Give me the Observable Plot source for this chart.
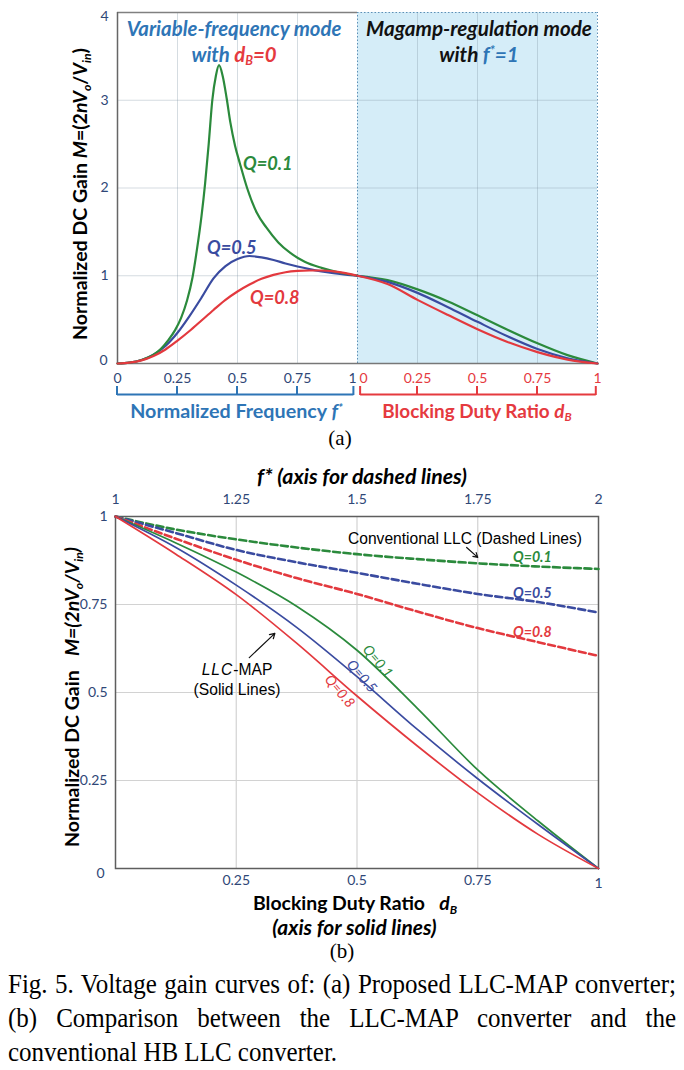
<!DOCTYPE html>
<html>
<head>
<meta charset="utf-8">
<script src="https://cdn.jsdelivr.net/npm/d3@7"></script>
<script src="https://cdn.jsdelivr.net/npm/@observablehq/plot@0.6"></script>
<style>
html,body{margin:0;padding:0;background:#fff;}
#root{position:relative;width:684px;height:1070px;overflow:hidden;background:#fff;font-family:Lato,"Open Sans",sans-serif;}
#root svg{position:absolute;left:0;}
.t{position:absolute;white-space:nowrap;line-height:1;}
.t sub{font-size:0.62em;vertical-align:-0.28em;line-height:0;}
.t sup{font-size:0.62em;vertical-align:0.5em;line-height:0;}
.cap{position:absolute;left:8px;width:668px;font-family:"Liberation Serif","Times New Roman",serif;font-size:25px;line-height:1;color:#000;transform:scaleY(1.12);transform-origin:50% 50%;}
.just{text-align:justify;text-align-last:justify;}
</style>
</head>
<body>
<div id="root"></div>
<script>
// ---------------- DATA ----------------
// Panel (a), variable-frequency mode: gain M vs normalized frequency f*
const fA_Q01 = [0,0.05,0.1,0.15,0.18,0.21,0.24,0.265,0.29,0.3125,0.33,0.35,0.365,0.38,0.395,0.41,0.423,0.438,0.455,0.47,0.49,0.51,0.54,0.58,0.62,0.67,0.72,0.78,0.85,0.92,1];
const mA_Q01 = [0,0.01,0.04,0.1,0.165,0.26,0.38,0.52,0.72,0.98,1.28,1.68,2.05,2.5,3.0,3.28,3.40,3.28,3.02,2.75,2.48,2.28,2.0,1.72,1.55,1.38,1.26,1.16,1.09,1.04,1.0];
const fA = [0,0.05,0.1,0.15,0.2,0.25,0.3,0.35,0.4,0.45,0.5,0.55,0.6,0.65,0.7,0.75,0.8,0.85,0.9,0.95,1];
const mA_Q05 = [0,0.01,0.04,0.1,0.2,0.35,0.54,0.75,0.97,1.11,1.19,1.225,1.21,1.18,1.14,1.105,1.075,1.05,1.03,1.013,1];
const mA_Q08 = [0,0.01,0.035,0.085,0.16,0.26,0.37,0.49,0.61,0.725,0.82,0.9,0.965,1.01,1.04,1.055,1.06,1.06,1.05,1.03,1];
// Panel (a), magamp-regulation mode: gain M vs blocking duty ratio dB
const dBA = [0,0.125,0.25,0.375,0.5,0.625,0.75,0.875,1];
const mAd_Q01 = [1,0.95,0.845,0.71,0.55,0.385,0.23,0.095,0];
const mAd_Q05 = [1,0.93,0.805,0.645,0.475,0.31,0.165,0.06,0];
const mAd_Q08 = [1,0.905,0.725,0.555,0.39,0.245,0.13,0.045,0];
// Panel (b), LLC-MAP solid lines vs dB
const dBB = [0,0.125,0.25,0.375,0.5,0.625,0.75,0.875,1];
const mB_Q01 = [1,0.925,0.842,0.745,0.62,0.455,0.28,0.135,0];
const mB_Q05 = [1,0.912,0.805,0.685,0.545,0.395,0.255,0.125,0];
const mB_Q08 = [1,0.893,0.778,0.64,0.49,0.348,0.215,0.097,0];
// Panel (b), conventional LLC dashed lines vs f* (1..2)
const fB = [1,1.125,1.25,1.375,1.5,1.625,1.75,1.875,2];
const mBd_Q01 = [1,0.963,0.935,0.912,0.893,0.879,0.867,0.858,0.851];
const mBd_Q05 = [1,0.953,0.905,0.87,0.84,0.809,0.78,0.757,0.727];
const mBd_Q08 = [1,0.937,0.877,0.825,0.78,0.73,0.683,0.643,0.604];
// Tick labels
const ticksA_f = [0,0.25,0.5,0.75];
const ticksA_d = [0.25,0.5,0.75,1];
const ticksA_y = [0,1,2,3,4];
const ticksB_x = [0.25,0.5,0.75,1];
const ticksB_top = [1,1.25,1.5,1.75,2];
const ticksB_y = [0,0.25,0.5,0.75,1];
// Annotation arrows (panel b, in dB / M units)
const arrowConv = [{x1:0.727,y1:0.912,x2:0.75,y2:0.884}];
const arrowMap = [{x1:0.277,y1:0.599,x2:0.33,y2:0.668}];

// ---------------- STYLE ----------------
const navy = "#2f4777", blueT = "#2e75b6", redT = "#e53a3f";
const cG = "#2b8a3c", cB = "#3a4ba0", cR = "#e3393e";
const FONT = "Lato, 'Open Sans', sans-serif";
const root = document.getElementById("root");
const rows = (xs, ys, shift=0) => xs.map((x,i)=>({x:x+shift, m:ys[i]}));

// ---------------- PANEL (a) ----------------
const gridC = "#7f95a3";
const plotA = Plot.plot({
  width:684, height:450,
  marginLeft:117, marginRight:87, marginTop:12, marginBottom:87,
  x:{domain:[0,2], axis:null},
  y:{domain:[0,4], axis:null},
  style:{fontFamily:FONT, fontSize:"14px", background:"transparent", overflow:"visible"},
  marks:[
    Plot.rect([0], {x1:1, x2:2, y1:0, y2:4, fill:"#d5edf8"}),
    Plot.ruleX([0.25,0.5,0.75,1.25,1.5,1.75], {y1:0, y2:4, stroke:gridC, strokeOpacity:0.33}),
    Plot.ruleY([1,2,3], {x1:0, x2:2, stroke:gridC, strokeOpacity:0.33}),
    Plot.ruleY([4], {x1:0, x2:1, stroke:"#808080", strokeWidth:1.3}),
    Plot.ruleX([1,2], {y1:0, y2:4, stroke:"#5d8fb5", strokeDasharray:"1.5,2"}),
    Plot.ruleY([4], {x1:1, x2:2, stroke:"#5d8fb5", strokeDasharray:"1.5,2"}),
    Plot.ruleX([0], {y1:0, y2:4, stroke:"#666", strokeWidth:1.5}),
    Plot.ruleY([0], {x1:0, x2:2, stroke:"#777", strokeWidth:1.5}),
    Plot.line(rows(fA, mA_Q05), {x:"x", y:"m", stroke:cB, strokeWidth:2.2, curve:"monotone-x"}),
    Plot.line(rows(fA_Q01, mA_Q01), {x:"x", y:"m", stroke:cG, strokeWidth:2.2, curve:"monotone-x"}),
    Plot.line(rows(fA, mA_Q08), {x:"x", y:"m", stroke:cR, strokeWidth:2.2, curve:"monotone-x"}),
    Plot.line(rows(dBA, mAd_Q01, 1), {x:"x", y:"m", stroke:cG, strokeWidth:2.2, curve:"monotone-x"}),
    Plot.line(rows(dBA, mAd_Q05, 1), {x:"x", y:"m", stroke:cB, strokeWidth:2.2, curve:"monotone-x"}),
    Plot.line(rows(dBA, mAd_Q08, 1), {x:"x", y:"m", stroke:cR, strokeWidth:2.2, curve:"monotone-x"}),
    // x tick labels
    Plot.text(ticksA_f, {x:d=>d, y:0, text:d=>String(d), dy:15, fill:navy, fontSize:14}),
    Plot.text([1], {x:d=>d, y:0, text:d=>String(d), dy:15, dx:-1, textAnchor:"end", fill:navy, fontSize:14}),
    Plot.text([0], {x:d=>d+1, y:0, text:d=>String(d), dy:15, dx:2, textAnchor:"start", fill:redT, fontSize:14}),
    Plot.text(ticksA_d, {x:d=>d+1, y:0, text:d=>String(d), dy:15, fill:redT, fontSize:14}),
    // y tick labels
    Plot.text(ticksA_y.filter(d=>d>0 && d<4), {x:0, y:d=>d, text:d=>String(d), dx:-9, textAnchor:"end", fill:navy, fontSize:14}),
    Plot.text([4], {x:0, y:d=>d, text:d=>String(d), dx:-9, dy:4, textAnchor:"end", fill:navy, fontSize:14}),
    Plot.text([0], {x:0, y:d=>d, text:d=>String(d), dx:-10, dy:-3, textAnchor:"end", fill:navy, fontSize:14}),
    // bracket baselines
    Plot.ruleY([0], {x1:0, x2:0.985, dy:31, stroke:blueT, strokeWidth:2}),
    Plot.ruleY([0], {x1:1.013, x2:1.995, dy:31, stroke:redT, strokeWidth:2})
  ]
});
plotA.style.top = "0px";
root.appendChild(plotA);
{
  const sx = plotA.scale("x"), sy = plotA.scale("y");
  const yb = sy.apply(0) + 31;
  const g = d3.select(plotA).append("g");
  const tk = (vals, col) => vals.forEach(v => g.append("line")
    .attr("x1", sx.apply(v)).attr("x2", sx.apply(v)).attr("y1", yb+1).attr("y2", yb-8)
    .attr("stroke", col).attr("stroke-width", 2));
  tk([0,0.25,0.5,0.75,0.985], blueT);
  tk([1.013,1.25,1.5,1.75,1.995], redT);
}

// ---------------- PANEL (b) ----------------
const plotB = Plot.plot({
  width:684, height:470,
  marginLeft:115, marginRight:86, marginTop:66, marginBottom:52,
  x:{domain:[0,1], axis:null},
  y:{domain:[0,1], axis:null},
  style:{fontFamily:FONT, fontSize:"14px", background:"transparent", overflow:"visible"},
  marks:[
    Plot.ruleX([0.25,0.5,0.75], {y1:0, y2:1, stroke:"#d2d2d2", strokeWidth:1.2}),
    Plot.ruleY([0.25,0.5,0.75], {x1:0, x2:1, stroke:"#d2d2d2", strokeWidth:1.2}),
    Plot.frame({stroke:"#5e5e5e", strokeWidth:1.5}),
    Plot.line(rows(fB, mBd_Q01, -1), {x:"x", y:"m", stroke:cG, strokeWidth:2.6, strokeDasharray:"7,3.5", curve:"monotone-x"}),
    Plot.line(rows(fB, mBd_Q05, -1), {x:"x", y:"m", stroke:cB, strokeWidth:2.6, strokeDasharray:"7,3.5", curve:"monotone-x"}),
    Plot.line(rows(fB, mBd_Q08, -1), {x:"x", y:"m", stroke:cR, strokeWidth:2.6, strokeDasharray:"7,3.5", curve:"monotone-x"}),
    Plot.line(rows(dBB, mB_Q01), {x:"x", y:"m", stroke:cG, strokeWidth:1.7, curve:"monotone-x"}),
    Plot.line(rows(dBB, mB_Q05), {x:"x", y:"m", stroke:cB, strokeWidth:1.7, curve:"monotone-x"}),
    Plot.line(rows(dBB, mB_Q08), {x:"x", y:"m", stroke:cR, strokeWidth:1.7, curve:"monotone-x"}),
    Plot.arrow(arrowConv, {x1:"x1", y1:"y1", x2:"x2", y2:"y2", stroke:"#111", strokeWidth:1.2, headLength:7}),
    Plot.arrow(arrowMap, {x1:"x1", y1:"y1", x2:"x2", y2:"y2", stroke:"#111", strokeWidth:1.2, headLength:7}),
    // top axis (f*)
    Plot.text(ticksB_top, {x:d=>d-1, y:1, text:d=>String(d), dy:-17, fill:navy, fontSize:14}),
    // bottom axis (dB)
    Plot.text(ticksB_x.filter(d=>d<1), {x:d=>d, y:0, text:d=>String(d), dy:12, fill:navy, fontSize:14}),
    Plot.text([1], {x:d=>d, y:0, text:d=>String(d), dy:15, fill:navy, fontSize:14}),
    // y axis
    Plot.text(ticksB_y.filter(d=>d>0), {x:0, y:d=>d, text:d=>String(d), dx:-8, textAnchor:"end", fill:navy, fontSize:14}),
    Plot.text([0], {x:0, y:d=>d, text:d=>String(d), dx:-11, dy:5, textAnchor:"end", fill:navy, fontSize:14})
  ]
});
plotB.style.top = "450px";
root.appendChild(plotB);

// ---------------- TEXT OVERLAYS ----------------
function addText(html, o) {
  const d = document.createElement("div");
  d.className = "t";
  d.innerHTML = html;
  let size = o.size || 16;
  d.style.fontSize = size + "px";
  d.style.fontWeight = o.weight ?? 700;
  d.style.fontStyle = o.italic ? "italic" : "normal";
  d.style.color = o.color || "#000";
  d.style.fontFamily = o.family || FONT;
  root.appendChild(d);
  if (o.fitW) { size = size * o.fitW / d.offsetWidth; d.style.fontSize = size + "px"; }
  const tx = o.anchor === "start" ? "0" : o.anchor === "end" ? "-100%" : "-50%";
  d.style.left = o.x + "px";
  d.style.top = o.y + "px";
  d.style.transform = `translate(${tx},-50%)` + (o.rotate ? ` rotate(${o.rotate}deg)` : "");
  return size;
}
const R = c => `<span style="color:${c}">`;
// Panel (a) headers
const s1 = addText("Variable-frequency mode", {x:234, y:28, italic:true, color:blueT, fitW:215});
addText(`with ${R(redT)}d<sub>B</sub>=0</span>`, {x:234, y:54, italic:true, color:blueT, size:s1});
const s2 = addText("Magamp-regulation mode", {x:479, y:28, italic:true, color:"#111", fitW:226});
addText(`with ${R(blueT)}f<sup>*</sup>=1</span>`, {x:479, y:54, italic:true, color:"#111", size:s2});
// Panel (a) Q labels
const sq = addText("Q=0.1", {x:243, y:163, anchor:"start", italic:true, color:cG, fitW:50});
addText("Q=0.5", {x:207, y:247, anchor:"start", italic:true, color:cB, size:sq});
addText("Q=0.8", {x:250, y:297, anchor:"start", italic:true, color:cR, size:sq});
// Panel (a) axis titles
addText(`Normalized DC Gain <i>M</i>=(2<i>nV<sub>o</sub></i>/<i>V<sub>in</sub></i>)`, {x:80, y:194, rotate:-90, color:"#000", fitW:292});
addText(`Normalized Frequency <i>f<sup>*</sup></i>`, {x:236.5, y:411, color:blueT, fitW:213});
addText(`Blocking Duty Ratio <i>d<sub>B</sub></i>`, {x:477, y:411, color:redT, fitW:190});
addText("(a)", {x:340, y:438, weight:400, size:21, family:"'Liberation Serif','Times New Roman',serif"});
// Panel (b) titles
addText("f* (axis for dashed lines)", {x:362, y:477, italic:true, fitW:210});
addText(`Blocking Duty Ratio &nbsp; <i>d<sub>B</sub></i>`, {x:355, y:903, fitW:204});
addText("(axis for solid lines)", {x:354.5, y:927, italic:true, fitW:165});
addText("(b)", {x:342, y:951, weight:400, size:21, family:"'Liberation Serif','Times New Roman',serif"});
addText(`Normalized DC Gain &nbsp; <i>M=(2nV<sub>o</sub>/V<sub>in</sub>)</i>`, {x:72, y:697, rotate:-90, fitW:300});
// Panel (b) annotations
const ARIAL = "'Liberation Sans', Arial, sans-serif";
addText("Conventional LLC (Dashed Lines)", {x:465, y:539, weight:400, family:ARIAL, fitW:234});
const sm = addText("(Solid Lines)", {x:237, y:690, weight:400, family:ARIAL, fitW:87});
addText(`<i style="letter-spacing:1px">LLC</i>-MAP`, {x:237, y:670, weight:400, family:ARIAL, size:sm});
const sqb = addText("Q=0.1", {x:513, y:557, anchor:"start", italic:true, color:cG, fitW:39});
addText("Q=0.5", {x:513, y:593, anchor:"start", italic:true, color:cB, size:sqb});
addText("Q=0.8", {x:513, y:632, anchor:"start", italic:true, color:cR, size:sqb});
addText("Q=0.1", {x:378, y:661, rotate:50, italic:true, weight:400, color:cG, size:14});
addText("Q=0.5", {x:362, y:676, rotate:50, italic:true, weight:400, color:cB, size:14});
addText("Q=0.8", {x:340, y:691, rotate:50, italic:true, weight:400, color:cR, size:14});

// ---------------- CAPTION ----------------
const capLines = [
  ["Fig. 5. Voltage gain curves of: (a) Proposed LLC-MAP converter;", true, 971],
  ["(b) Comparison between the LLC-MAP converter and the", true, 1005],
  ["conventional HB LLC converter.", false, 1039]
];
capLines.forEach(([txt, just, top]) => {
  const d = document.createElement("div");
  d.className = "cap" + (just ? " just" : "");
  d.style.top = top + "px";
  d.textContent = txt;
  root.appendChild(d);
});
</script>
</body>
</html>
